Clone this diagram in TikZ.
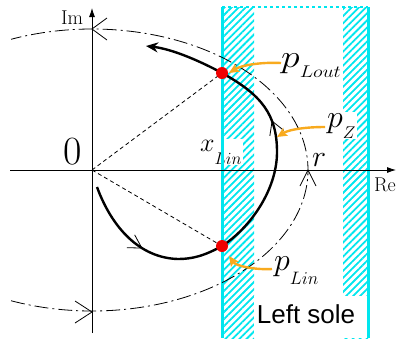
\RequirePackage{fix-cm}
\documentclass[tikz,border=0pt]{standalone}
\usepackage{fontspec}
\newfontfamily\solefont{Liberation Sans}
\usetikzlibrary{arrows.meta,patterns.meta,decorations.markings}
\definecolor{solecyan}{RGB}{0,230,238}
\definecolor{lblorange}{RGB}{248,170,30}
\definecolor{dotred}{RGB}{240,0,0}
% main letter, then subscript of given size lowered by given drop
\newcommand\plbl[4][-11pt]{$#2$\raisebox{#1}{\fontsize{#4}{#4}\selectfont$#3$}}
\begin{document}
\begin{tikzpicture}[x=1pt,y=-1pt,
  axis/.style={line width=0.8pt},
  hatch/.style={pattern={Lines[angle=45,distance=5pt,line width=1.8pt]},pattern color=solecyan},
  soleline/.style={solecyan,line width=3pt},
  lbl/.style={font=\fontsize{32}{32}\selectfont,fill=white,inner sep=1pt,anchor=base west},
  axlbl/.style={font=\fontsize{20}{20}\selectfont,inner sep=0pt,anchor=base},
  circ/.style={line width=0.8pt,dash pattern=on 14pt off 4pt on 2pt off 4pt},
  barb/.style={line width=0.8pt},
  ray/.style={line width=0.8pt,dash pattern=on 4pt off 3pt},
  traj/.style={line width=2.4pt,-{Stealth[length=12pt,width=10pt]}},
  point/.style={fill=dotred},
  pointer/.style={lblorange,line width=2.4pt,-{Stealth[length=10pt,width=9pt,inset=2pt]}}]
\useasboundingbox (0,0) rectangle (398,338);
% sole strips
\fill[hatch] (222,7) rectangle (254,338);
\fill[hatch] (343,7) rectangle (368,338);
\fill[white] (254,296) rectangle (366.5,338);
% labels
\node[lbl] (pLout) at (280,67) {\scalebox{1.18}[1]{\plbl[-10pt]{p}{Lout}{17}}};
\node[lbl] (pZ) at (326,127) {\plbl[-11pt]{p}{Z}{17}};
\node[lbl] (pLin) at (273,270) {\plbl[-14pt]{p}{Lin}{18}};
\node[lbl,font=\fontsize{26}{26}\selectfont] (xLin) at (199,151) {\plbl[-13pt]{x}{Lin}{17}};
\node[lbl,fill=none,font=\fontsize{30}{30}\selectfont] (rlbl) at (311,166) {$r$};
\node[font=\solefont\fontsize{26}{26}\selectfont,inner sep=0pt,anchor=base] (sole) at (306,323) {Left sole};
% sole outline
\draw[soleline] (222,7) -- (222,338);
\draw[soleline] (368,7) -- (368,338);
\draw[solecyan,line width=1.2pt,dash pattern=on 3pt off 3pt] (222,7) -- (368,7);
% axes
\coordinate (O) at (92,170);
\coordinate (imtop) at (92,8);
\coordinate (imbot) at (92,333);
\coordinate (releft) at (10,170);
\coordinate (reright) at (396,170);
\draw[axis,-{Latex[length=9pt,width=6pt]}] (imbot) -- (imtop);
\draw[axis,-{Latex[length=9pt,width=6pt]}] (releft) -- (reright);
\node[axlbl] (im) at (72,24) {Im};
\node[axlbl] (re) at (385,191) {Re};
\node[font=\fontsize{40}{40}\selectfont,inner sep=0pt,anchor=base] (zero) at (73,164.5) {0};
% circle of radius r
\draw[circ] plot[domain=-112:112,samples=150,smooth] ({92+216*cos(\x)},{170-141*sin(\x)});
\draw[barb] (107,18) -- (92,29) -- (107,40);
\draw[barb] (75,301) -- (92,312) -- (75,323);
\draw[barb] (300,186) -- (308,170) -- (316,186);
% rays
\coordinate (Plout) at (222,73);
\coordinate (Plin) at (222,246);
\draw[ray] (O) -- (Plout);
\draw[ray] (O) -- (Plin);
% trajectory
\draw[traj,postaction={decorate},decoration={markings,
    mark=at position 0.17 with {\arrow{Straight Barb[length=13pt,width=15pt,line width=0.8pt]}},
    mark=at position 0.67 with {\arrow{Straight Barb[length=13pt,width=15pt,line width=0.8pt]}}}]
  (97,187) .. controls (112,228) and (140,258) .. (178,259)
  .. controls (192,259) and (204,256) .. (Plin)
  .. controls (250,228) and (277,190) .. (277,152)
  .. controls (277,115) and (262,95) .. (Plout)
  .. controls (200,61) and (172,49) .. (146,46);
% pointers
\coordinate (zpt) at (277,137);
\draw[pointer] (281,63) .. controls (262,62) and (242,65) .. (229,73);
\draw[pointer] (325,127) .. controls (308,127) and (290,129) .. (zpt);
\draw[pointer] (272,269) .. controls (255,270) and (236,266) .. (229,256);
% points
\fill[point] (Plout) circle (6pt);
\fill[point] (Plin) circle (6pt);
\end{tikzpicture}
\end{document}
